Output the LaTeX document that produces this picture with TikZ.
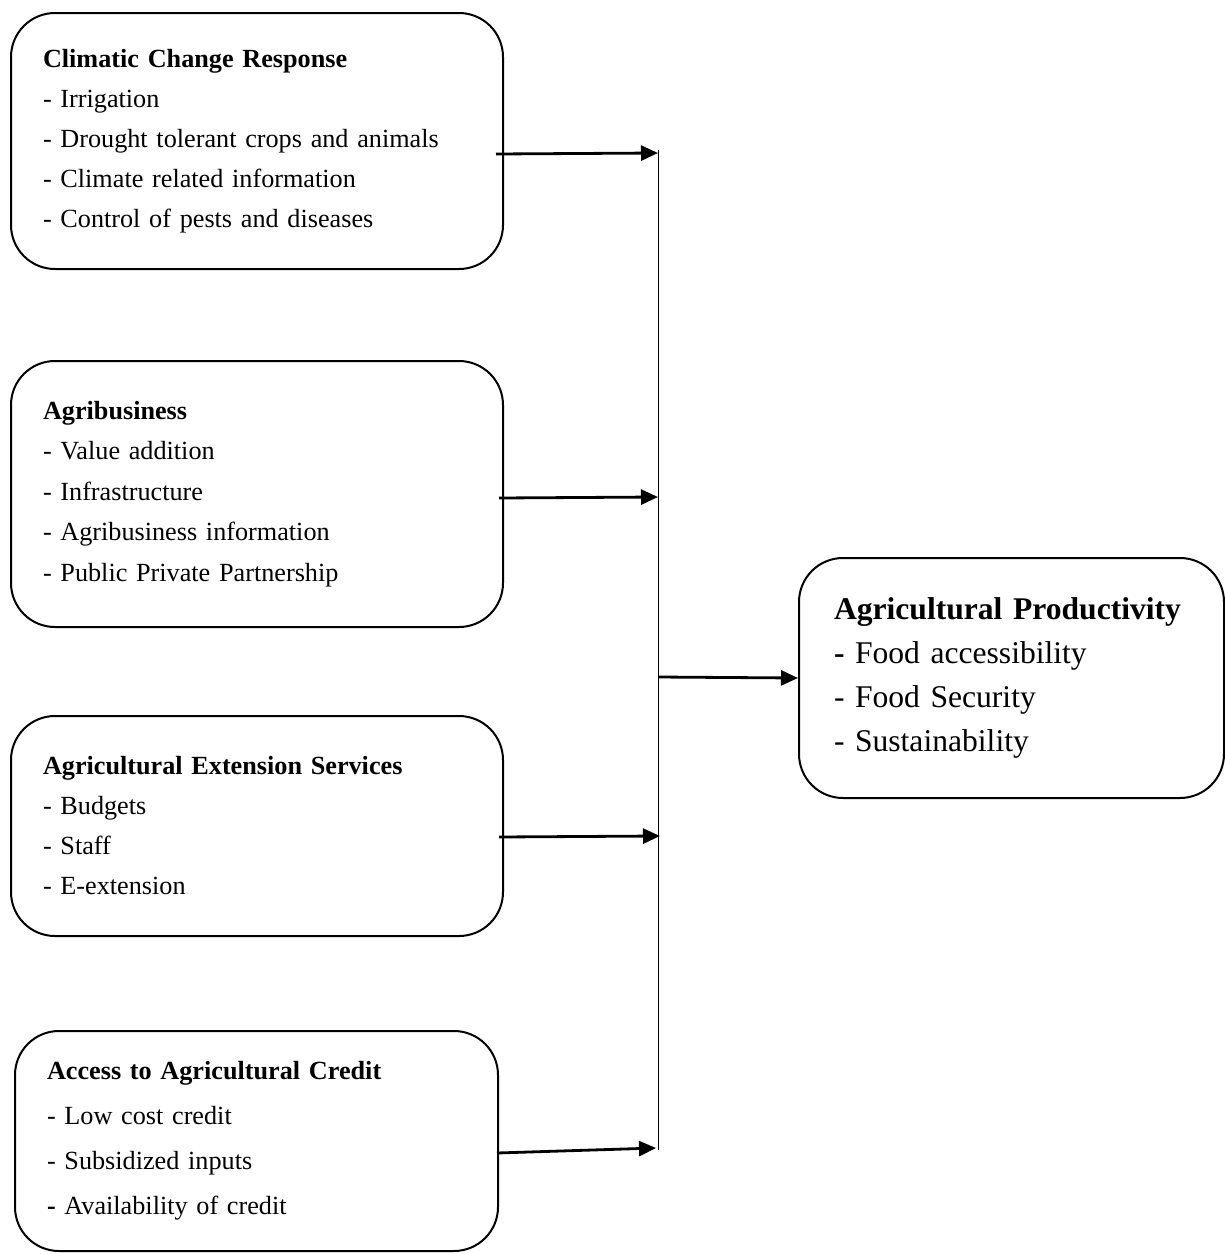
\documentclass[tikz,border=0pt]{standalone}
\usepackage{fontspec}
\setmainfont{Liberation Serif}
\usetikzlibrary{arrows.meta,positioning,calc}

\begin{document}
\begin{tikzpicture}[
  x=0.5pt, y=-0.5pt,
  factor/.style={draw, line width=1pt, rounded corners=22pt, anchor=north west, align=left,
    inner xsep=16pt, inner ysep=0pt, font=\fontsize{13.1}{20}\selectfont},
  outcome/.style={draw, line width=1pt, rounded corners=22pt, anchor=north west, align=left,
    inner xsep=17.5pt, inner ysep=0pt, text width=177.5pt, minimum height=120pt,
    font=\fontsize{15.8}{22}\selectfont},
  arrow/.style={-{Triangle[length=8.5pt,width=7.5pt]}, line width=1.4pt},
  bus/.style={line width=0.5pt}
]
\useasboundingbox (0,0) rectangle (1225,1254);

% independent variables
\node[factor, text width=214pt, minimum height=128pt] (climate) at (10,12)
  {\textbf{Climatic Change Response}\\- Irrigation\\- Drought tolerant crops and animals\\- Climate related information\\- Control of pests and diseases};
\node[factor, text width=214pt, minimum height=133pt, font=\fontsize{13.1}{20.25}\selectfont] (agribiz) at (10,360)
  {\textbf{Agribusiness}\\- Value addition\\- Infrastructure\\- Agribusiness information\\- Public Private Partnership};
\node[factor, text width=214pt, minimum height=110pt] (extension) at (10,715)
  {\textbf{Agricultural Extension Services}\\- Budgets\\- Staff\\- E-extension};
\node[factor, text width=209.5pt, minimum height=110pt, font=\fontsize{13.1}{22.5}\selectfont] (credit) at (14,1030)
  {\textbf{Access to Agricultural Credit}\\- Low cost credit\\- Subsidized inputs\\\textbf{-} Availability of credit};

% dependent variable
\node[outcome] (product) at (798,557)
  {\textbf{Agricultural Productivity}\\\textbf{-} Food accessibility\\- Food Security\\- Sustainability};

% collecting line
\coordinate (bustop) at (658,150);
\coordinate (busbot) at (658,1150);
\draw[bus] (bustop) -- (busbot);

\coordinate (in1) at (658,153);
\coordinate (in2) at (658,497);
\coordinate (in3) at (660,836);
\coordinate (in4) at (656,1148);
\coordinate (out) at (658,677);

\draw[arrow] ($(climate.east)+(-4pt,13)$) -- (in1);
\draw[arrow] ($(agribiz.east)+(-2.5pt,4)$) -- (in2);
\draw[arrow] ($(extension.east)+(-2.5pt,11)$) -- (in3);
\draw[arrow] ($(credit.east)+(-1pt,12)$) -- (in4);
\draw[arrow] (out) -- (product.west);

\end{tikzpicture}
\end{document}
